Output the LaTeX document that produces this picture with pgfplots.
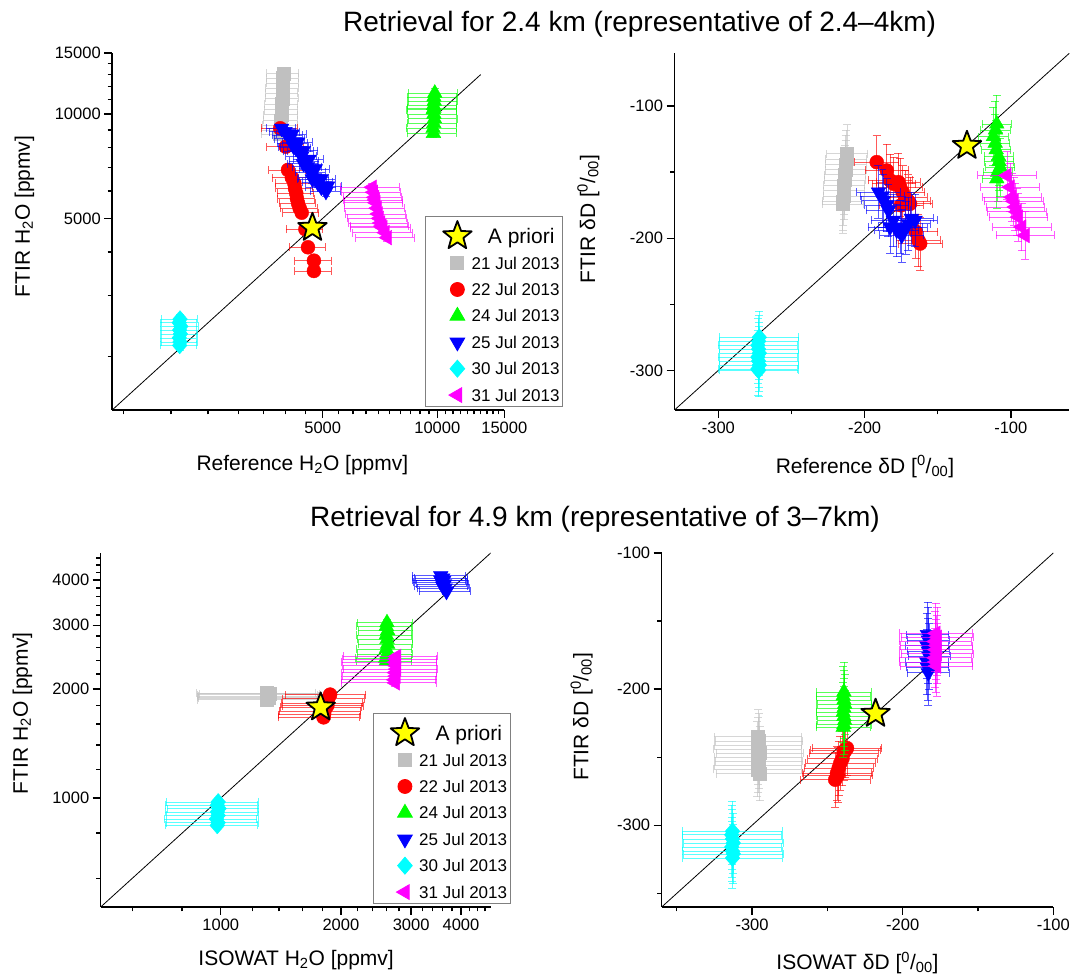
\documentclass[border=0pt]{standalone}
\usepackage{fontspec}
\setmainfont{Liberation Sans}
\usepackage{pgfplots}
\pgfplotsset{compat=1.18}
\usetikzlibrary{plotmarks}

\definecolor{cgray}{RGB}{192,192,192}
\definecolor{cred}{RGB}{255,0,0}
\definecolor{cgreen}{RGB}{0,255,0}
\definecolor{cblue}{RGB}{0,0,255}
\definecolor{ccyan}{RGB}{0,255,255}
\definecolor{cmag}{RGB}{255,0,255}
\definecolor{cyel}{RGB}{255,255,0}

\pgfdeclareplotmark{fivestar}{%
  \pgfpathmoveto{\pgfqpointpolar{90}{\pgfplotmarksize}}%
  \pgfpathlineto{\pgfqpointpolar{126}{0.42\pgfplotmarksize}}%
  \pgfpathlineto{\pgfqpointpolar{162}{\pgfplotmarksize}}%
  \pgfpathlineto{\pgfqpointpolar{198}{0.42\pgfplotmarksize}}%
  \pgfpathlineto{\pgfqpointpolar{234}{\pgfplotmarksize}}%
  \pgfpathlineto{\pgfqpointpolar{270}{0.42\pgfplotmarksize}}%
  \pgfpathlineto{\pgfqpointpolar{306}{\pgfplotmarksize}}%
  \pgfpathlineto{\pgfqpointpolar{342}{0.42\pgfplotmarksize}}%
  \pgfpathlineto{\pgfqpointpolar{18}{\pgfplotmarksize}}%
  \pgfpathlineto{\pgfqpointpolar{54}{0.42\pgfplotmarksize}}%
  \pgfpathclose
  \pgfusepathqfillstroke}

\pgfplotsset{
  ebar/.style={
    error bars/x dir=both, error bars/x explicit,
    error bars/y dir=both, error bars/y explicit,
    error bars/error bar style={draw=#1, line width=0.7pt, opacity=0.65},
    error bars/error mark options={rotate=90, draw=#1, mark size=4pt, line width=0.7pt, opacity=0.65}},
  sgray/.style={only marks, color=cgray, mark=square*, mark size=6.5pt, mark options={solid, draw=none, fill=cgray}, ebar=cgray},
  sred/.style={only marks, color=cred, mark=*, mark size=7pt, mark options={solid, draw=none, fill=cred}, ebar=cred},
  sgreen/.style={only marks, color=cgreen, mark=triangle*, mark size=8.5pt, mark options={solid, draw=none, fill=cgreen}, ebar=cgreen},
  sblue/.style={only marks, color=cblue, mark=triangle*, mark size=8.5pt, mark options={solid, draw=none, fill=cblue, rotate=180}, ebar=cblue},
  scyan/.style={only marks, color=ccyan, mark=diamond*, mark size=8.5pt, mark options={solid, draw=none, fill=ccyan, xscale=1.15}, ebar=ccyan},
  smag/.style={only marks, color=cmag, mark=triangle*, mark size=8.5pt, mark options={solid, draw=none, fill=cmag, rotate=90}, ebar=cmag},
  sstar/.style={only marks, mark=fivestar, mark size=15pt, mark options={solid, fill=cyel, draw=black, line width=1.8pt, line join=round}},
  starleg/.style={legend image code/.code={\path[draw=none, fill=none] (-29pt,-11.5pt) rectangle (14pt,19.2pt);
      \draw[##1] plot coordinates {(0pt,0pt)};}},
  diag/.style={black, line width=0.8pt, no marks},
  myaxis/.style={
    scale only axis, anchor=south west,
    axis x line*=bottom, axis y line*=left,
    axis line style={line width=1.5pt, black, -},
    tick style={line width=1.4pt, black},
    tick align=outside,
    major tick length=8pt, minor tick length=4.5pt,
    ticklabel style={font=\fontsize{16.5}{16.5}\selectfont},
    label style={font=\fontsize{21}{21}\selectfont},
    xlabel style={anchor=center},
    ylabel style={anchor=center},
    clip mode=individual,
    enlargelimits=false,
  },
  myleg/.style={
    legend cell align=left,
    legend style={draw=gray, line width=0.8pt, inner xsep=3pt, inner ysep=0pt,
      row sep=0pt, column sep=0pt, anchor=south west,
      font=\fontsize{17}{17}\selectfont,
      nodes={inner sep=0pt, text height=12pt, text depth=0pt, anchor=west}},
    legend image code/.code={\path[draw=none, fill=none] (-29pt,-11.5pt) rectangle (14pt,14.9pt);
      \draw[##1] plot coordinates {(0pt,0pt)};},
  },
}

\begin{document}
\begin{tikzpicture}[x=1pt,y=1pt]
\useasboundingbox (0,0) rectangle (1072,977);

\node[anchor=base west, inner sep=0pt, font=\fontsize{28}{28}\selectfont] at (343,945) {Retrieval for 2.4 km (representative of 2.4--4km)};
\node[anchor=base west, inner sep=0pt, font=\fontsize{28}{28}\selectfont] at (310,450) {Retrieval for 4.9 km (representative of 3--7km)};

% ---------------- Panel 1 ----------------
\begin{axis}[myaxis, myleg,
  at={(112.2pt,567pt)}, width=392.1pt, height=356.9pt,
  xmode=log, ymode=log,
  xmin=1400, xmax=15000, ymin=1400, ymax=15000,
  xtick={5000,10000,15000}, xticklabels={5000,10000,15000},
  ytick={5000,10000,15000}, yticklabels={5000,10000,15000},
  minor xtick={1500,2000,2500,3000,3500,4000,4500,5500,6000,6500,7000,7500,8000,8500,9000,9500,10500,11000,11500,12000,12500,13000,13500,14000,14500},
  minor ytick={2000,3000,4000,6000,7000,8000,9000,11000,12000,13000,14000},
  xlabel={Reference H\textsubscript{2}O [ppmv]},
  ylabel={FTIR H\textsubscript{2}O [ppmv]},
  xlabel style={at={(axis description cs:0.485,-0.154)}},
  ylabel style={at={(axis description cs:-0.224,0.542)}},
  legend style={at={(axis description cs:0.7977,0.0084)}},
]
\addlegendimage{sstar, starleg}
\addlegendentry[text height=15pt]{\fontsize{21}{21}\selectfont\hspace{16.3pt}A priori}
\addlegendimage{sgray}\addlegendentry{21 Jul 2013}
\addlegendimage{sred}\addlegendentry{22 Jul 2013}
\addlegendimage{sgreen}\addlegendentry{24 Jul 2013}
\addlegendimage{sblue}\addlegendentry{25 Jul 2013}
\addlegendimage{scyan}\addlegendentry{30 Jul 2013}
\addlegendimage{smag}\addlegendentry{31 Jul 2013}

\addplot[diag, forget plot] coordinates {(1400,1400) (13000,13000)};
\addplot[forget plot, sgray] table[x index=0, y index=1, x error index=2, y error index=3] {
3940 13100 380 260
3935 12700 380 250
3930 12300 380 250
3925 11900 380 240
3920 11500 380 230
3915 11100 390 220
3910 10700 390 210
3905 10300 390 210
3900 9950 400 200
3890 9600 400 190
3880 9300 400 190
3870 9000 410 180
3860 8750 410 180
};
\addplot[forget plot, sred] table[x index=0, y index=1, x error index=2, y error index=3] {
3868 9100 420 270
4001 8055 440 240
4054 6900 450 210
4150 6550 460 200
4212 6316 460 190
4230 6100 470 180
4261 5910 470 180
4280 5700 470 170
4307 5530 470 170
4350 5350 480 160
4404 5194 480 160
4504 4652 500 140
4575 4127 500 120
4742 3776 520 110
4742 3527 520 110
};
\addplot[forget plot, sgreen] table[x index=0, y index=1, x error index=2, y error index=3] {
9850 11500 1450 350
9800 11200 1450 340
9820 10900 1450 330
9780 10600 1450 320
9800 10400 1450 310
9760 10300 1450 310
9800 10000 1450 300
9830 9700 1450 290
9790 9400 1450 280
9750 9100 1450 270
9770 8800 1450 260
};
\addplot[forget plot, sblue] table[x index=0, y index=1, x error index=2, y error index=3] {
3900 9100 350 270
3980 8900 360 270
4050 8700 360 260
4100 8500 370 250
4180 8250 380 250
4200 8050 380 240
4250 8000 380 240
4330 7800 390 230
4400 7550 400 230
4450 7200 400 220
4480 7300 400 220
4560 7050 410 210
4650 6800 420 200
4700 6500 420 200
4750 6550 430 200
4850 6350 440 190
4960 6150 450 180
5100 5980 460 180
4150 8750 370 260
4300 8300 390 250
4450 7850 400 240
4600 7400 410 220
4780 6950 430 210
4950 6500 440 200
5150 6200 460 190
};
\addplot[forget plot, scyan] table[x index=0, y index=1, x error index=2, y error index=3] {
2110 2560 230 75
2100 2500 230 75
2120 2440 230 70
2105 2380 230 70
2115 2320 230 70
2100 2260 230 70
2110 2200 230 65
2105 2150 230 65
};
\addplot[forget plot, smag] table[x index=0, y index=1, x error index=2, y error index=3] {
6750 6150 1200 150
6800 5950 1200 150
6850 5750 1200 145
6880 5650 1200 140
6900 5550 1200 140
6950 5350 1250 135
7000 5150 1250 130
7050 5000 1250 125
7100 4850 1250 120
7150 4750 1250 120
7200 4700 1300 120
7300 4550 1300 115
7400 4400 1300 110
};
\addplot[forget plot, sstar] coordinates {(4700,4700)};
\end{axis}

% ---------------- Panel 2 ----------------
\begin{axis}[myaxis,
  at={(674.5pt,567pt)}, width=394.8pt, height=356.7pt,
  xmin=-330, xmax=-60, ymin=-330, ymax=-60,
  xtick={-300,-200,-100}, xticklabels={-300,-200,-100},
  ytick={-300,-200,-100}, yticklabels={-300,-200,-100},
  minor xtick={-250,-150}, minor ytick={-250,-150},
  xlabel={Reference δD [\textsuperscript{0}/\textsubscript{00}]},
  ylabel={FTIR δD [\textsuperscript{0}/\textsubscript{00}]},
  xlabel style={at={(axis description cs:0.4825,-0.159)}},
  ylabel style={at={(axis description cs:-0.218,0.5355)}},
]
\addplot[diag, forget plot] coordinates {(-330,-330) (-60,-60)};
\addplot[forget plot, sgray] table[x index=0, y index=1, x error index=2, y error index=3] {
-212 -136 14 22
-212.5 -140 14 22
-213 -144 14 22
-213 -148 14 22
-213.5 -152 14 22
-213.5 -156 14 22
-214 -160 14 22
-214 -164 14 22
-214.5 -168 14 22
-215 -172 14 22
-215 -174 14 22
};
\addplot[forget plot, sred] table[x index=0, y index=1, x error index=2, y error index=3] {
-191.7 -142.4 15 20
-184.8 -148.7 15 20
-182.5 -156.2 15 20
-180 -158.8 15 20
-176.9 -157.5 15 22
-175.7 -161.3 15 22
-174 -165 15 20
-172.3 -168.9 15 20
-170 -172 15 20
-168.9 -173.9 15 20
-175 -175 15 20
-165 -195 15 20
-163.2 -201.6 15 20
-162 -204 15 20
};
\addplot[forget plot, sgreen] table[x index=0, y index=1, x error index=2, y error index=3] {
-109.6 -113.5 10 22
-110.5 -118 10 22
-111.9 -123 10 22
-110.7 -128 10 22
-110 -133 10 22
-108.4 -138 10 22
-108 -142 10 22
-107.3 -146.2 10 22
-109 -150 10 22
-109.6 -155 10 22
};
\addplot[forget plot, sblue] table[x index=0, y index=1, x error index=2, y error index=3] {
-190.5 -165 15 20
-188 -168 15 20
-187.1 -171.4 15 20
-185 -175 15 20
-183.7 -178.9 15 20
-180.3 -186.5 15 20
-182.6 -191.5 15 20
-178 -194 15 20
-175.7 -191.5 15 20
-174.6 -197.9 15 20
-172 -192 15 20
-170 -189 15 20
-168 -185 15 20
-165.5 -186.5 15 20
};
\addplot[forget plot, scyan] table[x index=0, y index=1, x error index=2, y error index=3] {
-272 -275 27 20
-272.5 -278 27 20
-273 -281 27 20
-272.5 -284 27 20
-272 -287 27 20
-273 -290 27 20
-272.5 -293 27 20
-272 -296 27 20
-273 -299 27 20
-272.5 -300 27 20
};
\addplot[forget plot, smag] table[x index=0, y index=1, x error index=2, y error index=3] {
-102.7 -152.5 20 18
-100.5 -161.3 20 18
-99.3 -168.9 20 18
-98 -172 20 18
-97 -176.4 20 18
-96 -180 20 18
-94.8 -184 20 18
-92.5 -191.5 20 18
-90.2 -197.9 20 18
};
\addplot[forget plot, sstar] coordinates {(-130,-130)};
\end{axis}

% ---------------- Panel 3 ----------------
\begin{axis}[myaxis, myleg,
  at={(100.7pt,70pt)}, width=390pt, height=354pt,
  xmode=log, ymode=log,
  xmin=500, xmax=4750, ymin=500, ymax=4750,
  xtick={1000,2000,3000,4000}, xticklabels={1000,2000,3000,4000},
  ytick={1000,2000,3000,4000}, yticklabels={1000,2000,3000,4000},
  minor xtick={600,800,1200,1400,1600,1800,2200,2400,2600,2800,3200,3400,3600,3800,4200,4400,4600},
  minor ytick={600,800,1200,1400,1600,1800,2200,2400,2600,2800,3200,3400,3600,3800,4200,4400,4600},
  xlabel={ISOWAT H\textsubscript{2}O [ppmv]},
  ylabel={FTIR H\textsubscript{2}O [ppmv]},
  xlabel style={at={(axis description cs:0.501,-0.1497)}},
  ylabel style={at={(axis description cs:-0.201,0.547)}},
  legend style={at={(axis description cs:0.697,0.0085)}},
]
\addlegendimage{sstar, starleg}
\addlegendentry[text height=15pt]{\fontsize{21}{21}\selectfont\hspace{16.3pt}A priori}
\addlegendimage{sgray}\addlegendentry{21 Jul 2013}
\addlegendimage{sred}\addlegendentry{22 Jul 2013}
\addlegendimage{sgreen}\addlegendentry{24 Jul 2013}
\addlegendimage{sblue}\addlegendentry{25 Jul 2013}
\addlegendimage{scyan}\addlegendentry{30 Jul 2013}
\addlegendimage{smag}\addlegendentry{31 Jul 2013}

\addplot[diag, forget plot] coordinates {(500,500) (4750,4750)};
\addplot[forget plot, sgray] table[x index=0, y index=1, x error index=2, y error index=3] {
1300 1950 430 30
1325 1940 440 30
1310 1930 435 30
1320 1910 440 30
1310 1900 435 30
1315 1890 435 30
1305 1870 430 30
};
\addplot[forget plot, sred] table[x index=0, y index=1, x error index=2, y error index=3] {
1880 1930 430 40
1860 1880 430 40
1845 1830 425 37
1850 1800 425 36
1830 1780 420 36
1820 1740 420 35
1815 1700 420 34
1810 1670 415 33
};
\addplot[forget plot, sgreen] table[x index=0, y index=1, x error index=2, y error index=3] {
2610 3050 410 60
2600 2980 410 60
2620 2900 410 58
2600 2820 410 56
2610 2740 410 55
2620 2660 410 53
2600 2580 410 52
2610 2500 410 50
2590 2430 410 49
2600 2390 410 48
};
\addplot[forget plot, sblue] table[x index=0, y index=1, x error index=2, y error index=3] {
3560 4110 540 80
3560 4000 540 80
3600 4050 540 80
3620 3990 540 80
3580 3950 540 80
3640 3900 540 78
3600 3850 540 77
3650 3800 540 76
3680 3720 540 75
};
\addplot[forget plot, scyan] table[x index=0, y index=1, x error index=2, y error index=3] {
985 975 255 20
980 955 255 19
990 935 255 19
980 915 255 18
985 895 255 18
975 875 255 18
985 855 255 17
980 840 255 17
};
\addplot[forget plot, smag] table[x index=0, y index=1, x error index=2, y error index=3] {
2760 2460 730 50
2750 2420 730 48
2740 2370 730 47
2750 2320 730 46
2760 2270 730 45
2740 2220 730 44
2750 2170 730 43
2730 2120 730 42
2740 2080 730 42
};
\addplot[forget plot, sstar] coordinates {(1780,1780)};
\end{axis}

% ---------------- Panel 4 ----------------
\begin{axis}[myaxis,
  at={(661.7pt,70pt)}, width=391.6pt, height=354pt,
  xmin=-360, xmax=-100, ymin=-360, ymax=-100,
  xtick={-300,-200,-100}, xticklabels={-300,-200,-100},
  ytick={-300,-200,-100}, yticklabels={-300,-200,-100},
  minor xtick={-350,-250,-150}, minor ytick={-350,-250,-150},
  xlabel={ISOWAT δD [\textsuperscript{0}/\textsubscript{00}]},
  ylabel={FTIR δD [\textsuperscript{0}/\textsubscript{00}]},
  xlabel style={at={(axis description cs:0.5,-0.158)}},
  ylabel style={at={(axis description cs:-0.2043,0.5376)}},
]
\addplot[diag, forget plot] coordinates {(-360,-360) (-100,-100)};
\addplot[forget plot, sgray] table[x index=0, y index=1, x error index=2, y error index=3] {
-296 -235 29 20
-295.5 -238 29 20
-296 -241 29 20
-296.5 -244 29 20
-295 -247 29 20
-296 -250 29 20
-295.5 -253 29 20
-296 -256 29 20
-296.5 -259 29 20
-295 -262 29 20
};
\addplot[forget plot, sred] table[x index=0, y index=1, x error index=2, y error index=3] {
-237 -243.3 23 20
-238 -245 23 20
-239.2 -247 23 20
-240 -251 23 20
-241.4 -254.3 23 20
-242.5 -258 23 20
-243.6 -261.7 23 20
-243 -263 23 20
-244.8 -266.5 23 20
};
\addplot[forget plot, sgreen] table[x index=0, y index=1, x error index=2, y error index=3] {
-239 -202 18 22
-239.5 -205 18 22
-239 -208 18 22
-238.5 -211 18 22
-239 -214 18 22
-239.5 -217 18 22
-239 -220 18 22
-238.5 -223 18 22
-239 -226 18 22
-239.5 -228 18 22
};
\addplot[forget plot, sblue] table[x index=0, y index=1, x error index=2, y error index=3] {
-183.5 -160 14 24
-183 -164 14 24
-184 -168 14 24
-183 -172 14 24
-182.5 -176 14 24
-184 -180 14 24
-183.5 -184 14 24
-183 -188 14 24
};
\addplot[forget plot, scyan] table[x index=0, y index=1, x error index=2, y error index=3] {
-313 -304.4 33 22
-313.5 -307 33 22
-313 -310 33 22
-312.5 -313 33 22
-313.5 -316 33 22
-313 -319 33 22
-312.5 -321 33 22
-313 -324 33 22
};
\addplot[forget plot, smag] table[x index=0, y index=1, x error index=2, y error index=3] {
-178 -159 24 22
-177 -162 24 22
-178.5 -165 24 22
-177.5 -168 24 22
-178 -171 24 22
-177 -174 24 22
-178.5 -177 24 22
-178 -180 24 22
-177.5 -183 24 22
};
\addplot[forget plot, sstar] coordinates {(-218,-218)};
\end{axis}
\end{tikzpicture}
\end{document}
